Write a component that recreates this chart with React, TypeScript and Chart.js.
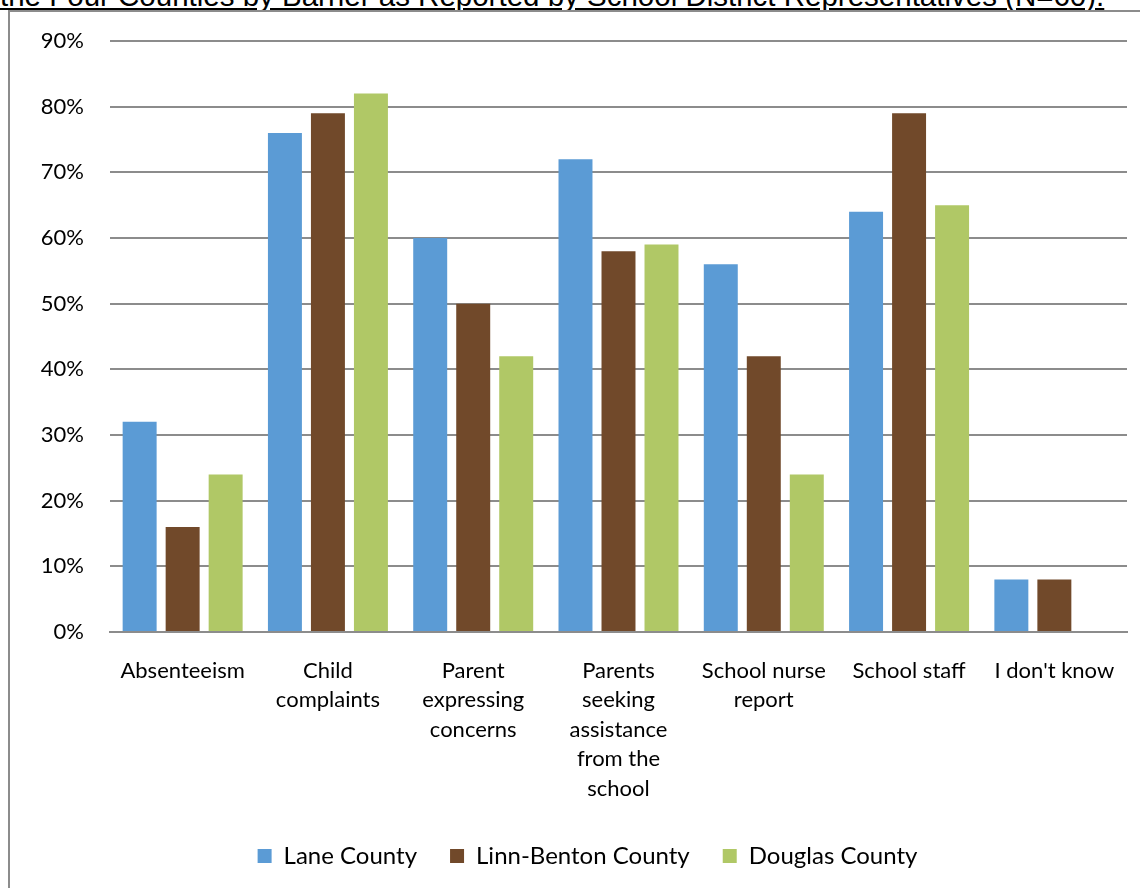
import React, { useEffect, useRef } from "react";
import { Chart, registerables } from "chart.js";

Chart.register(...registerables);

const headingText =
  "the Four Counties by Barrier as Reported by School District Representatives (N=60).";

const categories: (string | string[])[] = [
  "Absenteeism",
  ["Child", "complaints"],
  ["Parent", "expressing", "concerns"],
  ["Parents", "seeking", "assistance", "from the", "school"],
  ["School nurse", "report"],
  "School staff",
  "I don't know",
];

const laneCounty = [32, 76, 60, 72, 56, 64, 8];
const linnBentonCounty = [16, 79, 50, 58, 42, 79, 8];
const douglasCounty = [24, 82, 42, 59, 24, 65, null];

const yTicks = [0, 10, 20, 30, 40, 50, 60, 70, 80, 90];

// Nudges the bottom legend to the right so it sits centred under the framed area.
const legendShift = {
  id: "legendShift",
  afterLayout(chart: any) {
    const legend = chart.legend;
    if (!legend) return;
    legend.left += 24;
    legend.right += 24;
  },
};

export default function App() {
  const canvasRef = useRef<HTMLCanvasElement | null>(null);

  useEffect(() => {
    if (!canvasRef.current) return;
    const chart = new Chart(canvasRef.current, {
      type: "bar",
      data: {
        labels: categories,
        datasets: [
          { label: "Lane County", data: laneCounty, backgroundColor: "#5B9BD5" },
          { label: "Linn-Benton County", data: linnBentonCounty, backgroundColor: "#71492A" },
          { label: "Douglas County", data: douglasCounty, backgroundColor: "#B0C866" },
        ],
      },
      plugins: [legendShift],
      options: {
        animation: false,
        responsive: false,
        maintainAspectRatio: false,
        layout: { padding: { top: 41, right: 13, bottom: 10, left: 0 } },
        datasets: {
          bar: { categoryPercentage: 0.888, barPercentage: 0.79 },
        },
        scales: {
          x: {
            grid: { display: false, drawTicks: false },
            border: { display: true, color: "#8C8C8C", width: 2 },
            ticks: {
              color: "#000",
              font: { family: "Lato", size: 22, lineHeight: 1.34 },
              padding: 24,
              maxRotation: 0,
              autoSkip: false,
            },
            afterFit: (scale: any) => {
              scale.height = 179;
            },
          },
          y: {
            min: 0,
            max: 90,
            afterBuildTicks: (scale: any) => {
              scale.ticks = yTicks.map((v) => ({ value: v }));
            },
            grid: { color: "#8C8C8C", lineWidth: 2, drawTicks: false },
            border: { display: false },
            ticks: {
              color: "#000",
              font: { family: "Lato", size: 22 },
              padding: 26,
              callback: (v: any) => `${v}%`,
            },
            afterFit: (scale: any) => {
              scale.width = 110;
            },
          },
        },
        plugins: {
          legend: {
            position: "bottom",
            labels: {
              color: "#000",
              font: { family: "Lato", size: 24 },
              boxWidth: 14,
              boxHeight: 14,
              padding: 33,
            },
          },
          tooltip: { enabled: false },
        },
      },
    });
    return () => chart.destroy();
  }, []);

  return (
    <div
      style={{
        position: "absolute",
        left: 0,
        top: 0,
        width: 1140,
        height: 888,
        overflow: "hidden",
        background: "#fff",
      }}
    >
      <div
        style={{
          position: "absolute",
          left: 0,
          top: -19,
          whiteSpace: "nowrap",
          fontFamily: "'Liberation Sans', Arial, sans-serif",
          fontSize: 29.5,
          lineHeight: "30px",
          textDecoration: "underline",
          color: "#000",
        }}
      >
        {headingText}
      </div>
      <div
        style={{
          position: "absolute",
          left: 8,
          top: 10,
          width: 1200,
          height: 960,
          borderTop: "2px solid #8C8C8C",
          borderLeft: "2px solid #8C8C8C",
          boxSizing: "border-box",
        }}
      />
      <canvas
        ref={canvasRef}
        width={1140}
        height={888}
        style={{ position: "absolute", left: 0, top: 0 }}
      />
    </div>
  );
}
